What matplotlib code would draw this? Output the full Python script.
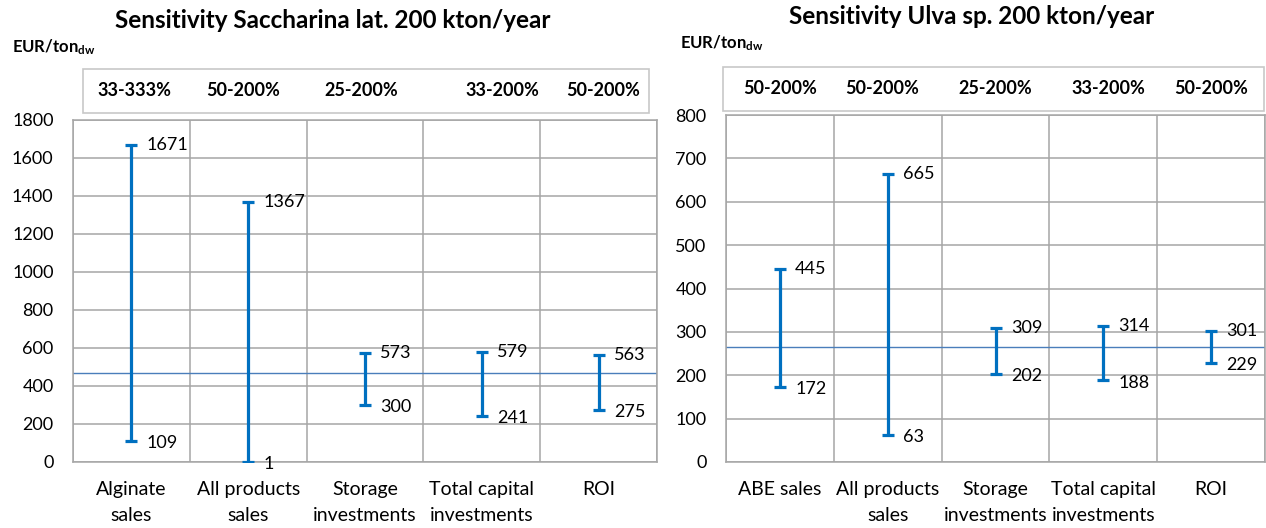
import matplotlib
matplotlib.use("Agg")
import matplotlib.pyplot as plt
from matplotlib.patches import Rectangle

plt.rcParams['font.family'] = ['Lato', 'DejaVu Sans']
plt.rcParams['mathtext.fontset'] = 'custom'
plt.rcParams['mathtext.rm'] = 'Lato'
plt.rcParams['mathtext.bf'] = 'Lato:bold'

# Saccharina latissima, 200 kton/year
sac_categories = ["Alginate\nsales", "All products\nsales", "Storage\ninvestments",
                  "Total capital\ninvestments", "ROI"]
sac_low = [109, 1, 300, 241, 275]
sac_high = [1671, 1367, 573, 579, 563]
sac_ranges = ["33-333%", "50-200%", "25-200%", "33-200%", "50-200%"]
sac_base = 466
sac_yticks = [0, 200, 400, 600, 800, 1000, 1200, 1400, 1600, 1800]

# Ulva sp., 200 kton/year
ulva_categories = ["ABE sales", "All products\nsales", "Storage\ninvestments",
                   "Total capital\ninvestments", "ROI"]
ulva_low = [172, 63, 202, 188, 229]
ulva_high = [445, 665, 309, 314, 301]
ulva_ranges = ["50-200%", "50-200%", "25-200%", "33-200%", "50-200%"]
ulva_base = 266
ulva_yticks = [0, 100, 200, 300, 400, 500, 600, 700, 800]

W, H = 1266, 528
DPI = 100
BLUE = "#0070C0"
BASE_BLUE = "#4A7EBB"
GRID = "#A6A6A6"
BOX = "#C8C8C8"
FS_TICK = 13
FS_CAT = 14

fig = plt.figure(figsize=(W / DPI, H / DPI), dpi=DPI)


def px_rect(x0, y_top, x1, y_bot):
    return [x0 / W, 1 - y_bot / H, (x1 - x0) / W, (y_bot - y_top) / H]


def panel(rect, cats, low, high, base, yticks, ranges, range_dx, header):
    ax = fig.add_axes(px_rect(*rect))
    n = len(cats)
    x = list(range(n))
    ax.set_xlim(-0.5, n - 0.5)
    ax.set_ylim(yticks[0], yticks[-1])
    ax.set_yticks(yticks)
    ax.set_xticks(x)
    ax.set_xticklabels(cats, fontsize=FS_CAT, linespacing=1.62)
    ax.set_xticks([i + 0.5 for i in range(-1, n)], minor=True)
    ax.tick_params(axis='both', which='both', length=0)
    ax.tick_params(axis='y', labelsize=FS_TICK, pad=14)
    ax.tick_params(axis='x', pad=14)
    ax.grid(True, axis='y', which='major', color=GRID, lw=1.1)
    ax.grid(True, axis='x', which='minor', color=GRID, lw=1.1)
    ax.set_axisbelow(True)
    for s in ax.spines.values():
        s.set_color(GRID)
        s.set_linewidth(1.1)

    ax.axhline(base, color=BASE_BLUE, lw=1.0, zorder=2)

    mid = [(l + h) / 2 for l, h in zip(low, high)]
    err = [[m - l for m, l in zip(mid, low)], [h - m for h, m in zip(high, mid)]]
    ax.errorbar(x, mid, yerr=err, fmt='none', ecolor=BLUE, elinewidth=2.3,
                capsize=4, capthick=2.3, zorder=3)

    for xi, l, h in zip(x, low, high):
        ax.annotate(str(h), (xi, h), xytext=(11, 0), textcoords='offset points',
                    ha='left', va='center', fontsize=FS_TICK)
        ax.annotate(str(l), (xi, l), xytext=(11, -1.5), textcoords='offset points',
                    ha='left', va='center', fontsize=FS_TICK)

    # header box with sensitivity ranges
    hx0, hy0, hx1, hy1 = header
    fig.patches.append(Rectangle((hx0 / W, 1 - hy1 / H), (hx1 - hx0) / W,
                                 (hy1 - hy0) / H, transform=fig.transFigure,
                                 fill=False, edgecolor=BOX, lw=1.2))
    ymid = 1 - ((hy0 + hy1) / 2) / H
    for xi, r, dx in zip(x, ranges, range_dx):
        xf = fig.transFigure.inverted().transform(
            ax.transData.transform((xi + dx, 0)))[0]
        fig.text(xf, ymid, r, ha='center', va='center', fontsize=13,
                 fontweight='bold')
    return ax


panel((73, 120, 657, 462), sac_categories, sac_low, sac_high, sac_base,
      sac_yticks, sac_ranges, [0.03, -0.04, -0.03, 0.18, 0.04],
      (83, 69, 649, 113))
panel((726, 115, 1265, 462), ulva_categories, ulva_low, ulva_high, ulva_base,
      ulva_yticks, ulva_ranges, [0.0, -0.05, 0.0, 0.05, 0.0],
      (723, 67, 1264, 111))

fig.text(333 / W, 1 - 21 / H, "Sensitivity Saccharina lat. 200 kton/year",
         ha='center', va='center', fontsize=17.5, fontweight='bold')
fig.text(972 / W, 1 - 17 / H, "Sensitivity Ulva sp. 200 kton/year",
         ha='center', va='center', fontsize=17.5, fontweight='bold')
fig.text(12 / W, 1 - 47 / H, r"$\mathbf{EUR/ton_{dw}}$", ha='left',
         va='center', fontsize=12)
fig.text(680 / W, 1 - 43 / H, r"$\mathbf{EUR/ton_{dw}}$", ha='left',
         va='center', fontsize=12)

fig.savefig("out.png", dpi=DPI)
